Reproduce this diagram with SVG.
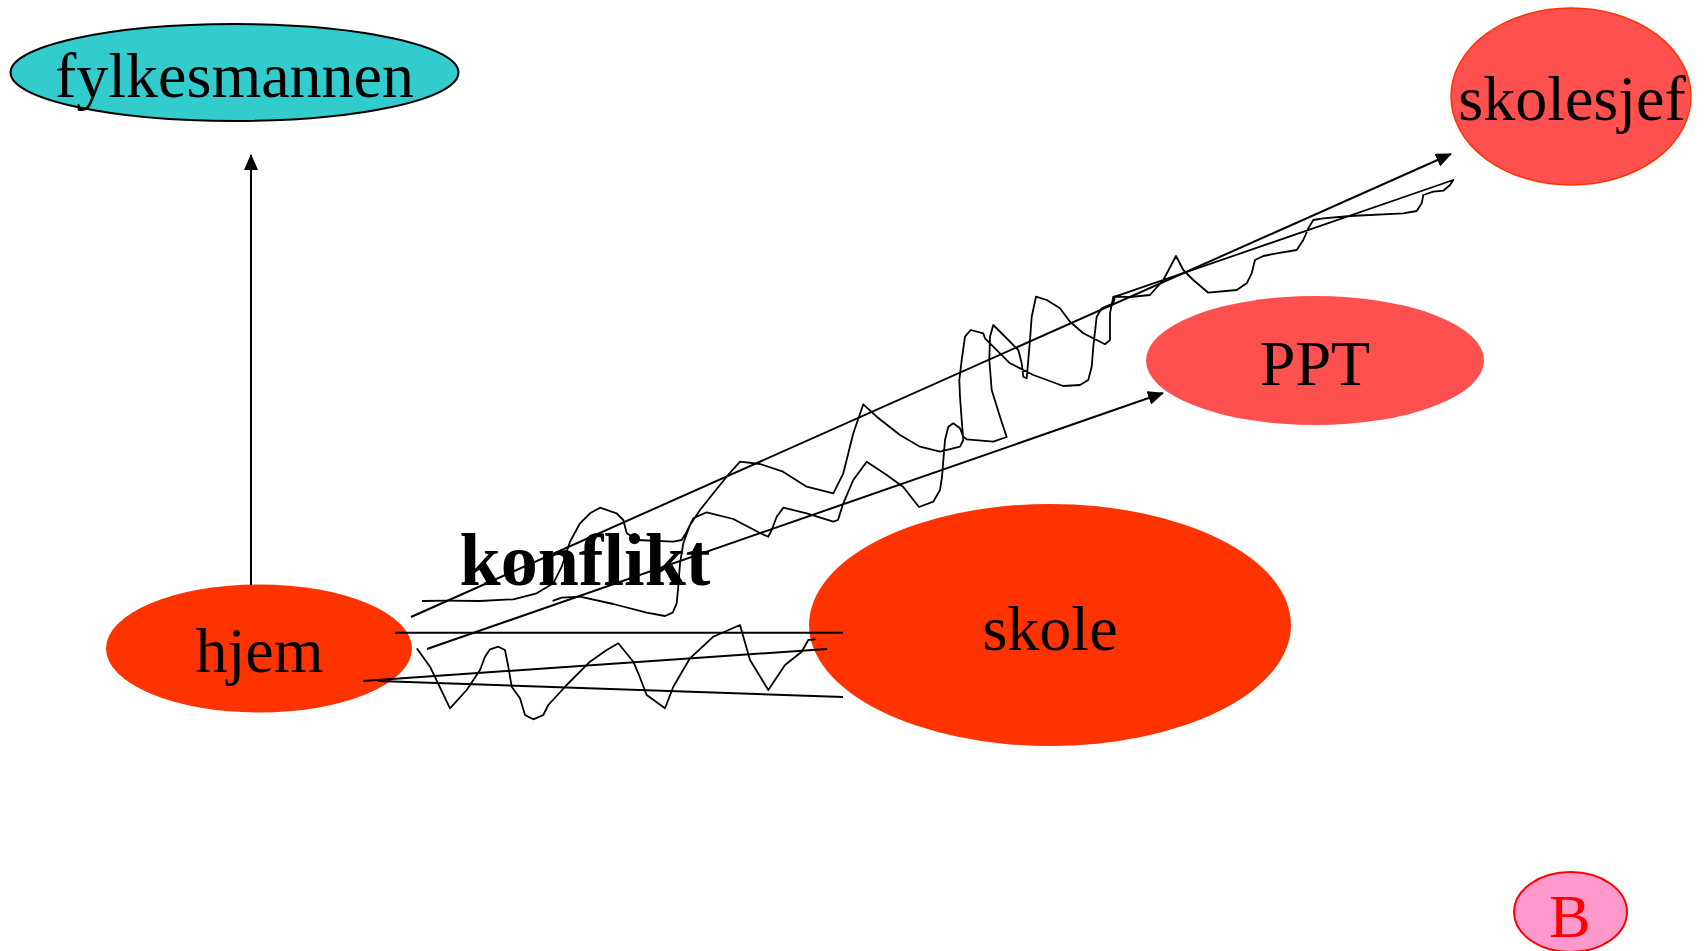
<svg xmlns="http://www.w3.org/2000/svg" width="1708" height="951" viewBox="0 0 1708 951">
<style>
.lbl{font-family:"Liberation Serif","Times New Roman",serif;font-size:64px;fill:#000;text-anchor:middle}
.ln{fill:none;stroke:#000;stroke-width:2}
.wv{fill:none;stroke:#000;stroke-width:1.8;stroke-linejoin:round;stroke-linecap:round}
</style>
<defs>
<marker id="ah" markerUnits="userSpaceOnUse" markerWidth="16" markerHeight="14" viewBox="0 0 16 14" refX="15" refY="7" orient="auto">
<path d="M0,0 L16,7 L0,14 z" fill="#000"/>
</marker>
</defs>
<rect width="1708" height="951" fill="#fff"/>
<g id="node-fylkesmannen">
<ellipse cx="234.5" cy="72.5" rx="224" ry="48.5" fill="#33CCCC" stroke="#000" stroke-width="2"/>
<text class="lbl" x="234.5" y="97">fylkesmannen</text>
</g>
<g id="node-skolesjef">
<ellipse cx="1571" cy="96.5" rx="120" ry="88.5" fill="#FF5050" stroke="#FF3300" stroke-width="1.5"/>
<text class="lbl" x="1572" y="120">skolesjef</text>
</g>
<g id="node-PPT">
<ellipse cx="1315" cy="360.5" rx="169" ry="64.5" fill="#FF5050"/>
<text class="lbl" x="1315" y="385">PPT</text>
</g>
<g id="node-skole">
<ellipse cx="1050" cy="625" rx="241" ry="121" fill="#FF3300"/>
<text class="lbl" x="1050" y="650">skole</text>
</g>
<g id="node-hjem">
<ellipse cx="259" cy="648.5" rx="153" ry="64" fill="#FF3300"/>
<text class="lbl" x="259.5" y="672">hjem</text>
</g>
<g id="node-B">
<ellipse cx="1570.5" cy="912" rx="56.5" ry="40" fill="#FF99CC" stroke="#FF0000" stroke-width="2"/>
<text class="lbl" x="1570" y="937" style="fill:#FF0000;font-size:62px">B</text>
</g>
<g id="connectors">
<line class="ln" x1="251" y1="585" x2="251" y2="155" marker-end="url(#ah)"/>
<line class="ln" x1="411" y1="617" x2="1451" y2="154" marker-end="url(#ah)"/>
<line class="ln" x1="427" y1="649" x2="1163" y2="393" marker-end="url(#ah)"/>
<line class="ln" x1="395" y1="632.7" x2="843" y2="632.7"/>
<line class="ln" x1="363" y1="681" x2="827" y2="649"/>
<line class="ln" x1="378" y1="681" x2="843" y2="697"/>
<polyline class="wv" points="417.3,649 430,666.7 450,708.3 466.7,690 480,670 485,656.7 490,649.3 498.3,646.7 505,650 508.3,666.7 511.7,686.7 520,698.3 525,715 533.3,719.3 543.3,715 548.3,705 566.7,685 590,661.7 606.7,650 618.3,643.3 633.3,661.7 638.3,673.3 646.7,695 665,708.3 673.3,686.7 690,658.3 713.3,636.7 740,625 750,660 768.3,690 785,665 801.7,651.7 808.3,640 815,639.3"/>
<polyline class="wv" points="422.7,601 446.7,600.7 480,601 513.3,599.3 536.7,593.3 553.3,583.3 561.7,566.7 570,541.7 580,523.3 590,513.3 600,507.7 616.7,513.3 623.3,520 626.7,533 636.7,540 673.3,541.7 681.7,540 686.7,531.7 693.3,518.3 706.7,512.3 733.3,519 760,533 768.3,536.7 771.7,530 776.7,516.7 783.3,507.7 806.7,513.3 833.3,521.7 838,520 843.3,503.3 853.3,480 866.7,461.7 886.7,475 903.3,487 919,507 933.3,501.7 940,490 942,477 945,440 948.3,426.7 953.3,423.3 960,428.3 963.3,436.7 966.7,439.3 993.3,441.7 1006.7,437 1000,416.7 991.7,390 989.3,360 990,336.7 993.3,325 1008.3,340 1018.3,350 1021.7,363.3 1023.3,376.7 1026.7,378.3 1030,340 1031.7,316.7 1036,296.7 1046.7,300 1060,308.3 1070,321.7 1083.3,333.3 1096.7,340 1105,344.3 1110,340 1110,313.3 1113.3,296.7 1130,297 1150,295 1163.3,280 1176,256 1183.3,270 1193.3,280 1208.3,292.7 1236.7,290 1246.7,283.3 1251.7,273.3 1255,260 1263.3,256 1276.7,253.3 1296.7,250 1303.3,240 1308.3,228.3 1313.3,220 1323.3,218.3 1350,216 1403.3,213.3 1416.7,211 1421.7,203.3 1423.3,195 1433.3,191.7 1443.3,190.7 1450,185 1453.3,180 1115,296.7 1113.3,303.3 1101.7,308.3 1096.7,316.7 1093.3,346.7 1091.7,366.7 1088.3,380 1080,385 1063.3,386 1033.3,375 1010,363.3 985,338.3 983.3,333.3 970.7,330 965,336.7 961.7,360 959.3,380 960,396.7 961.7,420 963.3,440 960,446.7 940,451.7 920,446.7 900,435 876.7,416.7 863.3,404.3 853.3,433.3 843.3,473.3 833.3,493.3 806.7,486.7 783,471.7 760,464 740,461.7 726.7,476.7 713.3,493.3 700,510 690,525 683.3,543.3 680,563.3 678.3,586.7 676.7,603.3 672.7,612.7 665,616 646.7,612.7 613.3,604 580,596.7 561.7,597.7 553.3,600.7"/>
</g>
<text x="585" y="585" style="font-family:'Liberation Serif','Times New Roman',serif;font-size:74px;font-weight:bold;text-anchor:middle;fill:#000">konflikt</text>
</svg>
